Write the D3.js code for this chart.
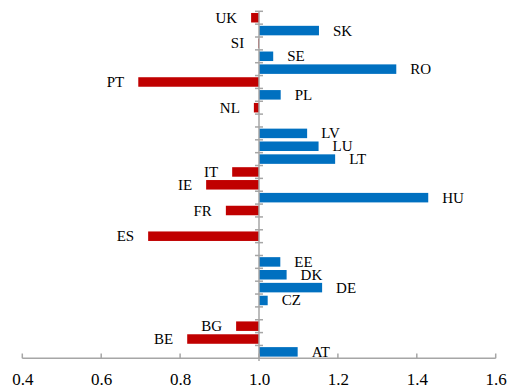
<!DOCTYPE html>
<html>
<head>
<meta charset="utf-8">
<script src="https://cdn.jsdelivr.net/npm/d3@7"></script>
<style>
  html, body { margin: 0; padding: 0; background: #fff; }
  svg { display: block; }
  text { font-family: "Liberation Serif", "Times New Roman", serif; fill: #000; }
</style>
</head>
<body>
<svg id="chart" width="509" height="389"></svg>
<script>
const countries = ["AT","BE","BG","CY","CZ","DE","DK","EE","EL","ES","FI","FR","HU","IE","IT","LT","LU","LV","MT","NL","PL","PT","RO","SE","SI","SK","UK"];
const values    = [1.098,0.818,0.942,null,1.022,1.160,1.070,1.054,null,0.719,null,0.916,1.429,0.866,0.932,1.193,1.151,1.122,null,0.987,1.055,0.694,1.348,1.036,0.998,1.152,0.980];
const xTicks = [0.4,0.6,0.8,1.0,1.2,1.4,1.6];
const xTickLabels = ["0.4","0.6","0.8","1.0","1.2","1.4","1.6"];
const baseline = 1.0;

const data = countries.map((c, i) => ({ c, v: values[i] }));

const svg = d3.select("#chart");
const x = d3.scaleLinear().domain([0.4, 1.6]).range([22.3, 495.7]);
const y = d3.scaleBand().domain(countries.slice().reverse()).range([11.3, 358.3]).paddingInner(0.26).paddingOuter(0.13);

const axisColor = "#a6a6a6";
const x0 = x(baseline);

// bars
svg.append("g").selectAll("rect")
  .data(data.filter(d => d.v !== null))
  .join("rect")
  .attr("x", d => Math.min(x(d.v), x0))
  .attr("y", d => y(d.c))
  .attr("width", d => Math.max(Math.abs(x(d.v) - x0), 0.8))
  .attr("height", y.bandwidth())
  .attr("fill", d => d.v >= baseline ? "#0070C0" : "#C00000");

// bottom axis
const xAxis = d3.axisBottom(x).tickValues(xTicks).tickFormat((d, i) => xTickLabels[i]).tickSize(0).tickPadding(0);
const gx = svg.append("g").attr("transform", "translate(0,358.3)").call(xAxis);
gx.select(".domain").remove();
gx.selectAll("text").attr("font-size", 17).attr("dy", null).attr("y", 26.5)
  .style("font-family", "'Liberation Serif', serif").attr("fill", "#000");
svg.append("line").attr("x1", x(0.4)).attr("x2", x(1.6)).attr("y1", 358.3).attr("y2", 358.3)
  .attr("stroke", axisColor).attr("stroke-width", 1.5);
svg.append("g").selectAll("line").data(xTicks).join("line")
  .attr("x1", d => x(d)).attr("x2", d => x(d))
  .attr("y1", 353.5).attr("y2", 358.3)
  .attr("stroke", axisColor).attr("stroke-width", 1.5);

// vertical category axis at 1.0
const step = (358.3 - 11.3) / countries.length;
svg.append("line").attr("x1", x0).attr("x2", x0).attr("y1", 11.3).attr("y2", 361)
  .attr("stroke", axisColor).attr("stroke-width", 1.5);
svg.append("g").selectAll("line").data(d3.range(countries.length)).join("line")
  .attr("x1", x0 - 4).attr("x2", x0 + 4)
  .attr("y1", i => 11.3 + i * step).attr("y2", i => 11.3 + i * step)
  .attr("stroke", axisColor).attr("stroke-width", 1.5);

// labels
svg.append("g").selectAll("text")
  .data(data.filter(d => d.v !== null))
  .join("text")
  .attr("font-size", 15)
  .attr("x", d => d.v >= baseline ? x(d.v) + 14 : x(d.v) - 14)
  .attr("y", d => y(d.c) + y.bandwidth() / 2 + 5)
  .attr("text-anchor", d => d.v >= baseline ? "start" : "end")
  .text(d => d.c);
</script>
</body>
</html>
